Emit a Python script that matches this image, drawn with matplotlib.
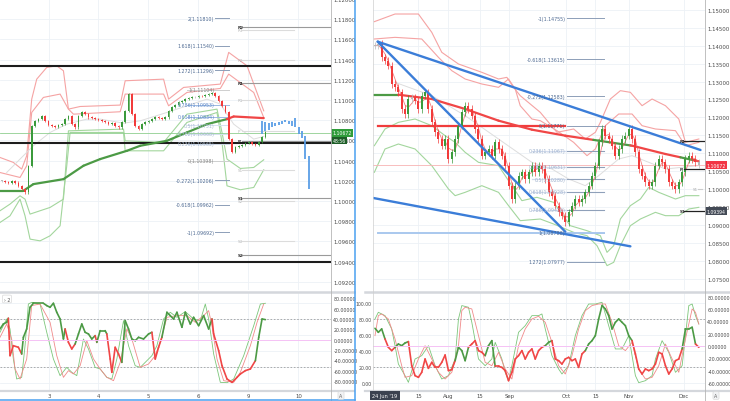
import numpy as np
import pandas as pd
import matplotlib
matplotlib.use("Agg")
import matplotlib.pyplot as plt
from matplotlib.lines import Line2D
from matplotlib.transforms import blended_transform_factory

W, H = 730, 402

# ---------------- left chart (hourly) ----------------
l_close = [1.10200, 1.10190, 1.10183, 1.10200, 1.10183, 1.10150, 1.10117, 1.10084, 1.10349, 1.10745,
           1.10794, 1.10811, 1.10837, 1.10794, 1.10751, 1.10745, 1.10735, 1.10751, 1.10761, 1.10811,
           1.10844, 1.10761, 1.10728, 1.10844, 1.10877, 1.10860, 1.10827, 1.10818, 1.10811, 1.10804,
           1.10794, 1.10785, 1.10761, 1.10771, 1.10745, 1.10728, 1.10778, 1.10893, 1.11059, 1.10860,
           1.10745, 1.10712, 1.10761, 1.10785, 1.10794, 1.10811, 1.10827, 1.10818, 1.10811, 1.10827,
           1.10893, 1.10927, 1.10950, 1.10976, 1.10993, 1.11009, 1.11016, 1.11026, 1.11026, 1.11042,
           1.11036, 1.11049, 1.11059, 1.11065, 1.11042, 1.10993, 1.10943, 1.10877, 1.10613, 1.10481,
           1.10530, 1.10547, 1.10557, 1.10573, 1.10580, 1.10563, 1.10557, 1.10586, 1.10629, 1.10679]
l_proj_hi = [1.10794, 1.10778, 1.10771, 1.10778, 1.10771, 1.10785, 1.10794, 1.10804, 1.10794, 1.10794,
             1.10818, 1.10728, 1.10695, 1.10646, 1.10448]
l_proj_lo = [1.10662, 1.10695, 1.10705, 1.10728, 1.10738, 1.10751, 1.10761, 1.10778, 1.10761, 1.10738,
             1.10728, 1.10662, 1.10619, 1.10415, 1.10117]

l_up_out_x = [0, 4, 6.5, 8, 9.5, 11, 14, 17, 19, 20.5, 24, 36, 37.5, 49, 50.5, 55, 66, 68.5, 74, 79]
l_up_out = [1.10431, 1.10382, 1.10316, 1.10448, 1.11009, 1.11207, 1.11323, 1.11339, 1.11290, 1.10910,
            1.10936, 1.10950, 1.11191, 1.11207, 1.11009, 1.11125, 1.11158, 1.11472, 1.11339, 1.10893]
l_up_in_x = [0, 6, 8, 9.5, 13, 18, 20.5, 22, 36, 37.5, 49, 50.5, 56, 66, 68.5, 76, 79]
l_up_in = [1.10282, 1.10233, 1.10349, 1.10877, 1.11026, 1.11059, 1.10910, 1.10860, 1.10884, 1.11059,
           1.11059, 1.10943, 1.11075, 1.11115, 1.11257, 1.11075, 1.10827]
l_lo_in_x = [0, 3, 6, 7.5, 9, 15, 19, 20.5, 37, 37.5, 49, 56, 65, 66.5, 68, 72, 76, 79]
l_lo_in = [1.09903, 1.09969, 1.10051, 1.10018, 1.09870, 1.09936, 1.10018, 1.10695, 1.10712, 1.10596,
           1.10580, 1.10860, 1.10910, 1.10679, 1.10415, 1.10322, 1.10332, 1.10408]
l_lo_out_x = [0, 3, 6, 7.5, 9, 12, 15, 18, 20, 21, 37, 37.5, 49, 56, 65, 66.5, 68, 72, 76, 79]
l_lo_out = [1.09787, 1.09853, 1.10018, 1.09853, 1.09622, 1.09605, 1.09655, 1.09754, 1.10349, 1.10679,
            1.10679, 1.10497, 1.10497, 1.10778, 1.10877, 1.10580, 1.10150, 1.10111, 1.10134, 1.10309]
l_mid_x = [2, 6, 10, 15, 20, 26, 30, 37, 42, 50, 56, 62, 66, 70, 76, 79]
l_mid = [1.10282, 1.10415, 1.10547, 1.10679, 1.10761, 1.10811, 1.10811, 1.10771, 1.10794, 1.10877,
         1.10943, 1.11009, 1.10960, 1.10761, 1.10613, 1.10639]
l_ma_x = [0, 7, 10, 19, 25, 30, 38, 42, 50, 56, 62, 68, 70, 79]
l_ma = [1.10101, 1.10101, 1.10167, 1.10216, 1.10349, 1.10415, 1.10497, 1.10547, 1.10596, 1.10679,
        1.10761, 1.10811, 1.10837, 1.10821]
l_ma_state = "g" * 11 + "rrr"

l_black = [1.11336, 1.10573, 1.09394]
l_fib_lvl = ["2", "1.618", "1.272", "1", "0.786", "0.618", "0.5", "0.382", "0.236", "0", "-0.272", "-0.618", "-1"]
l_fib_px = [1.11810, 1.11540, 1.11296, 1.11104, 1.10953, 1.10834, 1.10751, 1.10668, 1.10565, 1.10398,
            1.10206, 1.09962, 1.09692]
l_piv_dark = ["R2", "R1", "P", "S1", "S2"]
l_piv_dark_px = [1.11726, 1.11165, 1.10596, 1.10031, 1.09463]
l_piv_light = ["R3", "R2", "R1", "P", "S1", "S2", "S3"]
l_piv_light_px = [1.11698, 1.11396, 1.11002, 1.10692, 1.10302, 1.10001, 1.09599]
last_price = 1.10672
l_days = ["3", "4", "5", "6", "9", "10"]
l_day_pos = [14.7, 29.4, 44.4, 59.4, 74.4, 89.4]

# left oscillator (0-100 scale)
lo_main_x = [0, 1, 2, 2.5, 3, 4, 5.5, 6.5, 7, 8, 9, 10, 13, 14, 15, 16, 17, 18, 19, 19.5, 20.5, 21.5, 22.5,
             23.5, 24.5, 25.5, 26.5, 27.5, 28.5, 29, 30, 31.5, 32, 33, 33.5, 34.5, 35.5, 36.5, 37.5, 38.5,
             39.5, 40.5, 41.5, 43, 44.5, 45.5, 46.5, 47.5, 48.5, 50, 51, 52, 53, 54.5, 55.5, 57, 58, 59.5,
             61, 62.5, 63.5, 64, 65.5, 66.5, 68, 69.5, 71, 72, 73.5, 75, 76.5, 77.5, 78.5, 79.5]
lo_main = [67.4, 73.6, 75.7, 80.8, 33.9, 46.4, 44.4, 36.0, 56.9, 67.4, 94.6, 99.6, 99.6, 96.7, 94.6, 99.6,
           88.3, 79.9, 54.8, 67.4, 50.6, 42.3, 48.5, 61.1, 73.6, 63.2, 61.1, 54.8, 59.0, 50.6, 65.3, 65.3,
           61.1, 29.7, 13.0, 44.4, 36.0, 25.5, 77.8, 67.4, 54.8, 52.7, 56.9, 54.8, 61.1, 63.2, 29.7, 44.4,
           56.9, 88.3, 84.1, 79.9, 88.3, 69.5, 88.3, 73.6, 82.0, 71.5, 84.1, 67.4, 79.9, 61.1, 40.2, 21.3,
           4.6, 0.4, 6.7, 10.9, 15.1, 17.2, 27.6, 56.9, 79.9, 79.1]
lo_state = ("ggg" + "rrrr" + "g" * 12 + "rrr" + "g" * 6 + "r" + "ggg" + "rrrrr" + "g" * 8 + "rrr"
            + "g" * 12 + "r" * 10 + "gggg")
lo_fast_x = [0, 2, 3, 4, 5, 6.5, 7.5, 8.5, 9.5, 12, 14, 16, 18, 20, 21.5, 23, 25, 26.5, 28.5, 30, 32, 33.5,
             35, 37, 38.5, 40.5, 42, 44, 45.5, 47, 49, 51, 53, 55.5, 58, 60, 61.5, 62.5, 64, 66, 68, 70,
             73, 76, 78, 79.5]
lo_fast = [63.2, 79.9, 67.4, 29.7, 4.6, 6.7, 46.4, 98.7, 100.8, 98.7, 63.2, 29.7, 8.8, 19.2, 13.0, 8.8,
           54.8, 42.3, 19.2, 17.2, 6.7, 4.6, 29.7, 77.8, 46.4, 21.3, 19.2, 27.6, 33.9, 46.4, 79.9, 88.3,
           82.0, 89.1, 79.9, 77.8, 98.7, 79.9, 36.0, 0.4, 0.0, 4.6, 33.9, 71.5, 98.7, 99.6]
lo_slow_x = [0, 2, 3.5, 4.5, 6, 8, 9.5, 12, 15, 17, 19, 20.5, 22, 24, 26, 28, 30, 32, 34, 36, 38, 39.5, 42,
             44.5, 46.5, 48, 50, 53, 56, 58.5, 61, 62.5, 63.5, 65, 67, 70, 72, 75, 77, 79]
lo_slow = [56.9, 73.6, 54.8, 17.2, 4.6, 29.7, 96.7, 98.7, 75.7, 33.9, 6.7, 15.1, 10.9, 21.3, 52.7, 29.7,
           17.2, 6.7, 2.5, 25.5, 67.4, 54.8, 19.2, 23.4, 33.9, 50.6, 82.0, 84.1, 84.1, 75.7, 84.1, 90.4,
           71.5, 29.7, 2.5, 0.4, 13.0, 46.4, 75.7, 98.7]

# ---------------- right chart (daily) ----------------
r_close = [1.13998, 1.14045, 1.13674, 1.13581, 1.13441, 1.12931, 1.12838, 1.12699, 1.12235, 1.12095,
           1.12513, 1.12560, 1.12467, 1.12235, 1.12606, 1.12699, 1.12235, 1.11863, 1.11585, 1.11399,
           1.11213, 1.11399, 1.10842, 1.11028, 1.11399, 1.11770, 1.12142, 1.12327, 1.12235, 1.12049,
           1.11678, 1.11399, 1.10935, 1.11028, 1.11121, 1.10935, 1.11306, 1.11121, 1.10935, 1.10657,
           1.10099, 1.09728, 1.10099, 1.10378, 1.10471, 1.10285, 1.10471, 1.10657, 1.10471, 1.10657,
           1.10564, 1.10285, 1.09914, 1.09821, 1.09543, 1.09357, 1.09264, 1.09078, 1.09357, 1.09543,
           1.09728, 1.09635, 1.09728, 1.09914, 1.10099, 1.10378, 1.10657, 1.11306, 1.11678, 1.11492,
           1.11399, 1.11213, 1.10935, 1.11121, 1.11399, 1.11492, 1.11678, 1.11399, 1.11028, 1.10564,
           1.10378, 1.10192, 1.10099, 1.10192, 1.10657, 1.10842, 1.10749, 1.10564, 1.10192, 1.10099,
           1.10007, 1.10192, 1.10471, 1.10842, 1.10935, 1.10842, 1.10749, 1.10684]

r_up_out_x = [2.8, 9, 16, 20, 23, 28, 35, 40, 42.5, 44.5, 46.5, 52.5, 57.5, 62.5, 66, 69, 70.5, 73.5, 76.5,
              79.5, 83, 86, 90, 94, 96, 100]
r_up_out = [1.14667, 1.14880, 1.14880, 1.14370, 1.13813, 1.13488, 1.13256, 1.13070, 1.13116, 1.12838,
            1.12606, 1.12142, 1.11585, 1.11678, 1.11399, 1.11585, 1.11863, 1.12513, 1.12745, 1.12699,
            1.12327, 1.12513, 1.12327, 1.11956, 1.11306, 1.11399]
r_up_in_x = [2.8, 9, 17, 22, 26, 30, 35, 40, 43, 45, 46.5, 50, 52.5, 57.5, 62.5, 66.5, 69, 72, 76, 80, 83,
             87, 93, 96, 100]
r_up_in = [1.14184, 1.14230, 1.14184, 1.13674, 1.13302, 1.13070, 1.12931, 1.12838, 1.13070, 1.12792,
           1.12327, 1.11956, 1.11910, 1.11631, 1.11306, 1.10935, 1.11121, 1.11770, 1.12095, 1.12095,
           1.11770, 1.11678, 1.11631, 1.11213, 1.11306]
r_lo_in_x = [2.8, 6, 10, 15, 20, 24, 27, 30, 34, 40, 44, 47, 51.5, 56.5, 61.5, 66.5, 70.5, 72.5, 74.5, 76.5,
             79.5, 82.5, 85, 88, 93, 96, 100]
r_lo_in = [1.11213, 1.11678, 1.11863, 1.11956, 1.11770, 1.11492, 1.11306, 1.11028, 1.10749, 1.10657,
           1.10099, 1.09682, 1.09775, 1.09635, 1.08985, 1.08846, 1.08707, 1.08243, 1.08429, 1.09171,
           1.09543, 1.09728, 1.10053, 1.09914, 1.09728, 1.09821, 1.09821]
r_lo_out_x = [2.8, 6, 10, 15, 20, 25, 27, 30, 35, 40, 43, 46.5, 52.5, 56.5, 62.5, 66.5, 69.5, 72.5, 74.5,
              76.5, 79.5, 82.5, 87, 90, 94, 97, 100]
r_lo_out = [1.10471, 1.11121, 1.11260, 1.11121, 1.10657, 1.10007, 1.09821, 1.09914, 1.10099, 1.09914,
            1.09543, 1.09125, 1.09171, 1.09032, 1.08800, 1.08707, 1.08429, 1.07872, 1.07965, 1.08429,
            1.08985, 1.09171, 1.09357, 1.09264, 1.09264, 1.09450, 1.09496]
r_mid_x = [9, 20, 30, 40, 50, 56, 61, 66, 70, 76, 80, 90, 100]
r_mid = [1.12977, 1.12606, 1.12049, 1.11399, 1.10749, 1.10564, 1.10285, 1.10099, 1.10378, 1.10842,
         1.10935, 1.10564, 1.10657]
r_ma_x = [2.8, 10, 20, 30, 40, 50, 60, 68.4, 70, 79.5, 80, 90, 94.5, 98.5, 100]
r_ma = [1.12634, 1.12634, 1.12513, 1.12235, 1.11910, 1.11659, 1.11492, 1.11375, 1.11353, 1.11220,
        1.11213, 1.10981, 1.10889, 1.10808, 1.10777]
r_ma_state = "grrrrrrggrrrgrr"

r_trend_up = ([3.8, 100.5], [1.14110, 1.11093])
r_trend_steep = ([3.8, 60.0], [1.14110, 1.08818])
r_trend_low = ([2.5, 79.5], [1.09756, 1.08410])
r_fib_lvl = ["-1", "-0.618", "-0.272", "0", "0.236", "0.382", "0.5", "0.618", "0.786", "1", "1.272"]
r_fib_px = [1.14755, 1.13615, 1.12583, 1.11771, 1.11067, 1.10631, 1.10280, 1.09928, 1.09426, 1.08788,
            1.07977]
r_piv = ["R1", "P", "S1"]
r_piv_px = [1.11334, 1.10564, 1.09394]
r_piv_light_px = 1.10007
r_months = ["15", "Aug", "15", "Sep", "Oct", "15", "Nov", "Dec"]
r_month_pos = [16.0, 25.0, 34.5, 43.2, 60.3, 69.0, 79.0, 95.5]

# right oscillator (0-100 scale)
ro_main = [68.2, 63.2, 67.4, 54.8, 44.4, 40.2, 44.4, 48.5, 46.4, 49.8, 51.5, 21.3, 8.8, 6.7, 13.0, 29.7,
           18.0, 25.5, 19.2, 19.2, 25.5, 34.7, 15.1, 16.3, 27.6, 44.4, 40.2, 27.6, 44.4, 48.5, 52.7, 40.2,
           38.1, 33.9, 46.4, 52.7, 20.5, 20.5, 19.2, 15.1, 2.5, 13.0, 29.7, 33.9, 40.2, 29.7, 38.1, 42.3,
           29.7, 40.2, 44.4, 46.4, 50.6, 52.7, 29.7, 27.6, 23.4, 29.7, 31.8, 27.6, 29.7, 19.2, 36.0, 40.2,
           48.5, 52.7, 59.0, 79.9, 96.7, 92.5, 84.1, 67.4, 75.7, 79.9, 75.7, 71.5, 59.0, 52.7, 36.0, 17.2,
           10.9, 17.2, 15.1, 17.2, 23.4, 38.1, 36.0, 21.3, 10.9, 17.2, 27.6, 29.7, 42.3, 67.4, 67.4, 69.5,
           48.5, 44.4]
ro_state = ("ggg" + "rrr" + "gggg" + "r" * 14 + "gggg" + "r" * 5 + "ggg" + "r" * 15 + "gg" + "r" * 10
            + "g" * 14 + "r" * 15 + "gggg" + "rr")
ro_fast_x = [3, 4, 6, 8, 9, 10, 12, 13, 15, 17, 19, 21, 23, 25, 27, 28, 29, 31, 32, 34, 36, 38, 39, 40, 41,
             42, 43, 44, 46, 48, 50, 52, 53, 54, 56, 58, 59, 61, 63, 65, 67, 69, 71, 73, 75, 77, 79, 80,
             81, 82, 84, 86, 87, 89, 91, 93, 95, 97, 98, 99, 100]
ro_fast = [79.9, 88.3, 84.1, 67.4, 46.4, 23.4, 8.8, 0.4, 29.7, 33.9, 46.4, 21.3, 4.6, 8.8, 29.7, 79.9, 96.7,
           94.6, 75.7, 29.7, 21.3, 29.7, 50.6, 40.2, 29.7, 13.0, 2.5, 21.3, 63.2, 71.5, 84.1, 84.1, 86.2,
           67.4, 33.9, 17.2, 10.9, 21.3, 59.0, 84.1, 98.7, 98.7, 100.8, 71.5, 42.3, 42.3, 59.0, 33.9, 8.8,
           0.0, 2.5, 8.8, 29.7, 52.7, 38.1, 13.0, 21.3, 96.7, 98.7, 84.1, 73.6]
ro_slow_x = [3, 4, 5, 7, 9, 11, 12, 14, 16, 18, 20, 22, 24, 26, 28, 29, 30, 32, 34, 36, 38, 40, 42, 44, 46,
             48, 50, 52, 54, 56, 58, 60, 62, 64, 66, 68, 70, 72, 74, 76, 78, 80, 82, 84, 86, 88, 90, 92,
             94, 96, 98, 99, 100]
ro_slow = [59.0, 84.1, 86.2, 79.9, 54.8, 21.3, 6.7, 8.8, 29.7, 46.4, 29.7, 13.0, 4.6, 13.0, 46.4, 90.4,
           94.6, 92.5, 59.0, 25.5, 21.3, 38.1, 17.2, 4.6, 46.4, 67.4, 79.9, 83.3, 75.7, 50.6, 21.3, 10.9,
           33.9, 67.4, 90.4, 96.7, 98.7, 98.7, 75.7, 46.4, 40.2, 50.6, 17.2, 4.6, 6.7, 21.3, 48.5, 29.7,
           13.0, 54.8, 92.5, 88.3, 73.6]

# ---------------- style ----------------
C_UP, C_DN, C_FLAT = "#3b9a3b", "#f23b3b", "#b9b9b9"
C_MA_G, C_MA_R = "#4c9a45", "#f04646"
C_BAND_R, C_BAND_G = "#f5a3a3", "#a3d69d"
C_TREND = "#3b7dd8"
C_FIB = "#4e6a92"
C_TXT = "#4a4a4a"
GRID = "#edf1f6"
FS = 3.9

fig = plt.figure(figsize=(W / 100, H / 100), dpi=100)


def fx(px):
    return px / W


def fy(py):
    return 1 - py / H


ax_lt = fig.add_axes([0, fy(291), fx(330.5), 291 / H])
ax_lb = fig.add_axes([0, fy(391), fx(330.5), (391 - 294) / H])
ax_rt = fig.add_axes([fx(373), fy(291), fx(704.5 - 373), 291 / H])
ax_rb = fig.add_axes([fx(373), fy(391), fx(704.5 - 373), (391 - 294) / H])

for ax in (ax_lt, ax_lb, ax_rt, ax_rb):
    for s in ax.spines.values():
        s.set_visible(False)
    ax.tick_params(length=0, labelsize=FS, labelcolor=C_TXT, pad=2)
    ax.grid(True, color=GRID, lw=0.6, zorder=0)
    ax.set_axisbelow(True)


def candles(ax, x, closes, wick, flat, width):
    c = np.asarray(closes)
    o = np.r_[c[0], c[:-1]]
    col = np.where(np.abs(c - o) < flat, C_FLAT, np.where(c > o, C_UP, C_DN))
    ax.vlines(x, np.minimum(o, c) - wick, np.maximum(o, c) + wick, colors=col, lw=0.5, zorder=4)
    body = np.maximum(np.abs(c - o), wick * 0.3)
    ax.bar(x, body, bottom=np.minimum(o, c), width=width, color=col, lw=0, zorder=5)


def two_tone(ax, x, y, state, lw, z=3):
    for i in range(len(x) - 1):
        col = C_MA_G if state[i] == "g" else C_MA_R
        ax.plot(x[i:i + 2], y[i:i + 2], color=col, lw=lw, solid_capstyle="round", zorder=z)


def price_tag(ax, y, text, bg):
    tr = blended_transform_factory(ax.transAxes, ax.transData)
    ax.text(1.006, y, text, transform=tr, fontsize=3.3, color="white", va="center", ha="left",
            bbox=dict(boxstyle="square,pad=0.3", fc=bg, ec="none"), zorder=9, clip_on=False)


# ---- left top
ax = ax_lt
ax.set_xlim(0, 99)
ax.set_ylim(1.09118, 1.12001)
ax.yaxis.tick_right()
ticks = np.arange(1.092, 1.12005, 0.002)
ax.set_yticks(ticks)
ax.set_yticklabels([f"{t:.5f}" for t in ticks])
ax.set_xticks(l_day_pos)
ax.set_xticklabels([])
ax.plot(l_up_out_x, l_up_out, color=C_BAND_R, lw=0.8, zorder=1)
ax.plot(l_up_in_x, l_up_in, color=C_BAND_R, lw=0.8, zorder=1)
ax.plot(l_lo_in_x, l_lo_in, color=C_BAND_G, lw=0.8, zorder=1)
ax.plot(l_lo_out_x, l_lo_out, color=C_BAND_G, lw=0.8, zorder=1)
ax.plot(l_mid_x, l_mid, color="#dddddd", lw=0.7, zorder=1)
for p in l_black:
    ax.axhline(p, color="#1c1c1c", lw=1.5, zorder=3)
ax.axhline(last_price, color="#8fcf8f", lw=0.6, zorder=2)
two_tone(ax, l_ma_x, l_ma, l_ma_state, 1.6)
candles(ax, np.arange(len(l_close)) + 0.5, l_close, 0.00010, 0.00005, 0.5)
ax.vlines(np.arange(len(l_proj_hi)) + 78.5, l_proj_lo, l_proj_hi, colors="#5b9ee6", lw=1.3, zorder=6)
for lvl, p in zip(l_fib_lvl, l_fib_px):
    r = float(lvl)
    inner = 0 <= r <= 1
    if lvl in ("0.786", "0.618"):
        col, lcol = "#5b86c6", "#9bb9e3"
    elif lvl in ("1", "0"):
        col, lcol = "#8a8a8a", "#cfcfcf"
    elif inner:
        col, lcol = "#a9bbd4", "#d6e1ef"
    else:
        col, lcol = C_FIB, "#8d9fb8"
    x0 = 56 if inner else 64.5
    ax.plot([x0, 68.6], [p, p], color=lcol, lw=0.7, zorder=2)
    ax.text(64.2, p, f"{lvl}({p:.5f})", ha="right", va="center", fontsize=3.4, color=col, zorder=7)
for name, p in zip(l_piv_light, l_piv_light_px):
    ax.plot([72.6, 88], [p, p], color="#dcdcdc", lw=0.8, zorder=2)
    ax.text(71.2, p, name, ha="left", va="center", fontsize=3.0, color="#b8b8b8", zorder=7)
for name, p in zip(l_piv_dark, l_piv_dark_px):
    ax.plot([72.6, 99], [p, p], color="#9a9a9a", lw=0.8, zorder=2)
    ax.text(71.2, p, name, ha="left", va="center", fontsize=3.0, color="#333333", fontweight="bold",
            zorder=7)
price_tag(ax, last_price + 0.00003, "1.10672", "#2f9c3a")
price_tag(ax, 1.10598, "48:56", "#1d5e27")

# ---- right top
ax = ax_rt
ax.set_xlim(2.4, 101.7)
ax.set_ylim(1.07194, 1.15298)
ax.yaxis.tick_right()
ticks = np.arange(1.075, 1.15005, 0.005)
ax.set_yticks(ticks)
ax.set_yticklabels([f"{t:.5f}" for t in ticks])
ax.set_xticks(r_month_pos)
ax.set_xticklabels([])
ax.plot(r_up_out_x, r_up_out, color=C_BAND_R, lw=0.8, zorder=1)
ax.plot(r_up_in_x, r_up_in, color=C_BAND_R, lw=0.8, zorder=1)
ax.plot(r_lo_in_x, r_lo_in, color=C_BAND_G, lw=0.8, zorder=1)
ax.plot(r_lo_out_x, r_lo_out, color=C_BAND_G, lw=0.8, zorder=1)
ax.plot(r_mid_x, r_mid, color="#dddddd", lw=0.7, zorder=1)
ax.axhline(last_price, color="#f7b3b3", lw=0.6, zorder=2)
for lvl, p in zip(r_fib_lvl, r_fib_px):
    r = float(lvl)
    inner = 0 < r < 1
    if inner:
        ax.plot([50, 71.5], [p, p], color="#d3dced", lw=0.9, zorder=2)
    ax.plot([60.5, 71.5], [p, p], color="#8d9fb8", lw=0.7, zorder=2)
    ax.text(60, p, f"{lvl}({p:.5f})", ha="right", va="center", fontsize=3.4,
            color="#9fb2cd" if inner else C_FIB, zorder=7)
ax.plot([3.8, 60], [r_fib_px[3]] * 2, color="#f03c3c", lw=1.6, zorder=3)
ax.plot([3.8, 71.5], [r_fib_px[9]] * 2, color="#a9c8ee", lw=1.4, zorder=2)
two_tone(ax, r_ma_x, r_ma, r_ma_state, 1.6)
fast = pd.Series(r_close).rolling(3, min_periods=1).mean()
ax.plot(np.arange(len(r_close)) + 3, fast, color="#f06060", lw=0.6, alpha=0.8, zorder=3)
candles(ax, np.arange(len(r_close)) + 3, r_close, 0.0010, 0.0007, 0.6)
for xs, ys in (r_trend_up, r_trend_steep, r_trend_low):
    ax.plot(xs, ys, color=C_TREND, lw=1.7, solid_capstyle="round", zorder=6)
for name, p in zip(r_piv, r_piv_px):
    ax.plot([95.6, 101.7], [p, p], color="#222222", lw=0.9, zorder=6)
    ax.text(94.3, p, name, ha="left", va="center", fontsize=3.0, color="#333333", fontweight="bold",
            zorder=7)
ax.plot([99.8, 101.0], [r_piv_light_px] * 2, color="#cccccc", lw=0.8, zorder=2)
ax.text(98.3, r_piv_light_px, "S1", ha="left", va="center", fontsize=3.0, color="#aaaaaa", zorder=7)
price_tag(ax, last_price, "1.10672", "#f23645")
price_tag(ax, r_piv_px[2], "1.09394", "#434a56")

# ---- bottom oscillators
for ax, xlim in ((ax_lb, (0, 99)), (ax_rb, (2.4, 101.7))):
    ax.set_xlim(*xlim)
    ax.set_ylim(-9.2, 112.5)
    ax.axhline(80, color="#a0a0a0", lw=0.6, ls=(0, (2, 2)), zorder=1)
    ax.axhline(20, color="#a0a0a0", lw=0.6, ls=(0, (2, 2)), zorder=1)

ax = ax_lb
ax.set_xticks(l_day_pos)
ax.set_xticklabels(l_days)
ax.set_yticks([0, 20, 40, 60, 80, 100])
ax.set_yticklabels([])
ax.plot(lo_fast_x, lo_fast, color="#7cc67a", lw=0.6, zorder=2)
ax.plot(lo_slow_x, lo_slow, color="#f08a8a", lw=0.6, zorder=2)
two_tone(ax, lo_main_x, lo_main, lo_state, 1.2)
tl = ax.twinx()
tl.set_ylim((-9.2 - 54) / 0.648, (112.5 - 54) / 0.648)
tl.axhline(0, color="#f5c2f5", lw=0.7, zorder=1)

ax = ax_rb
ax.set_xticks(r_month_pos)
ax.set_xticklabels(r_months)
ax.set_yticks([0, 20, 40, 60, 80, 100])
ax.set_yticklabels([f"{v:.2f}" for v in [0, 20, 40, 60, 80, 100]], fontsize=3.3)
ax.tick_params(axis="y", pad=1)
ax.plot(ro_fast_x, ro_fast, color="#7cc67a", lw=0.6, zorder=2)
ax.plot(ro_slow_x, ro_slow, color="#f08a8a", lw=0.6, zorder=2)
two_tone(ax, np.arange(len(ro_main)) + 3, ro_main, ro_state, 1.2)
tr = ax.twinx()
tr.set_ylim((-9.2 - 46) / 0.774, (112.5 - 46) / 0.774)
tr.axhline(0, color="#f5c2f5", lw=0.7, zorder=1)

for t, lo, hi in ((tl, -80, 80), (tr, -60, 80)):
    for s in t.spines.values():
        s.set_visible(False)
    vals = np.arange(lo, hi + 1, 20)
    t.set_yticks(vals)
    t.set_yticklabels([f"{v:.5f}" for v in vals])
    t.tick_params(length=0, labelsize=3.4, labelcolor=C_TXT, pad=2)


# ---- frame decorations
def fline(x0, x1, y0, y1, **kw):
    fig.add_artist(Line2D([fx(x0), fx(x1)], [fy(y0), fy(y1)], **kw))


for a, b in ((0, 354), (365, 730)):
    fline(a, b, 292.5, 292.5, color="#d4d7dc", lw=1.8)
    fline(a, b, 391.8, 391.8, color="#d4d7dc", lw=1.6)
fline(330.5, 330.5, 0, 402, color="#b5b5b5", lw=0.6)
fline(704.5, 704.5, 0, 402, color="#b5b5b5", lw=0.6)
fline(372.5, 372.5, 0, 392, color="#cfcfcf", lw=0.5)
fline(354.5, 354.5, 0, 400.5, color="#4aa0f0", lw=1.1)
fline(0, 354.5, 400.5, 400.5, color="#4aa0f0", lw=1.1)

fig.text(fx(385), fy(396.5), "24 Jun '19", fontsize=3.6, color="white", ha="center", va="center",
         bbox=dict(boxstyle="square,pad=0.4", fc="#3b4250", ec="none"))
for xp in (341, 716):
    fig.text(fx(xp), fy(396.5), "A", fontsize=3.4, color="#666666", ha="center", va="center",
             bbox=dict(boxstyle="round,pad=0.3", fc="#f1f2f4", ec="#d6d6d6", lw=0.4))
fig.text(fx(7), fy(300), "› 2", fontsize=3.4, color="#555555", ha="center", va="center",
         bbox=dict(boxstyle="round,pad=0.3", fc="white", ec="#d0d0d0", lw=0.4))

fig.savefig("out.png", dpi=100)
